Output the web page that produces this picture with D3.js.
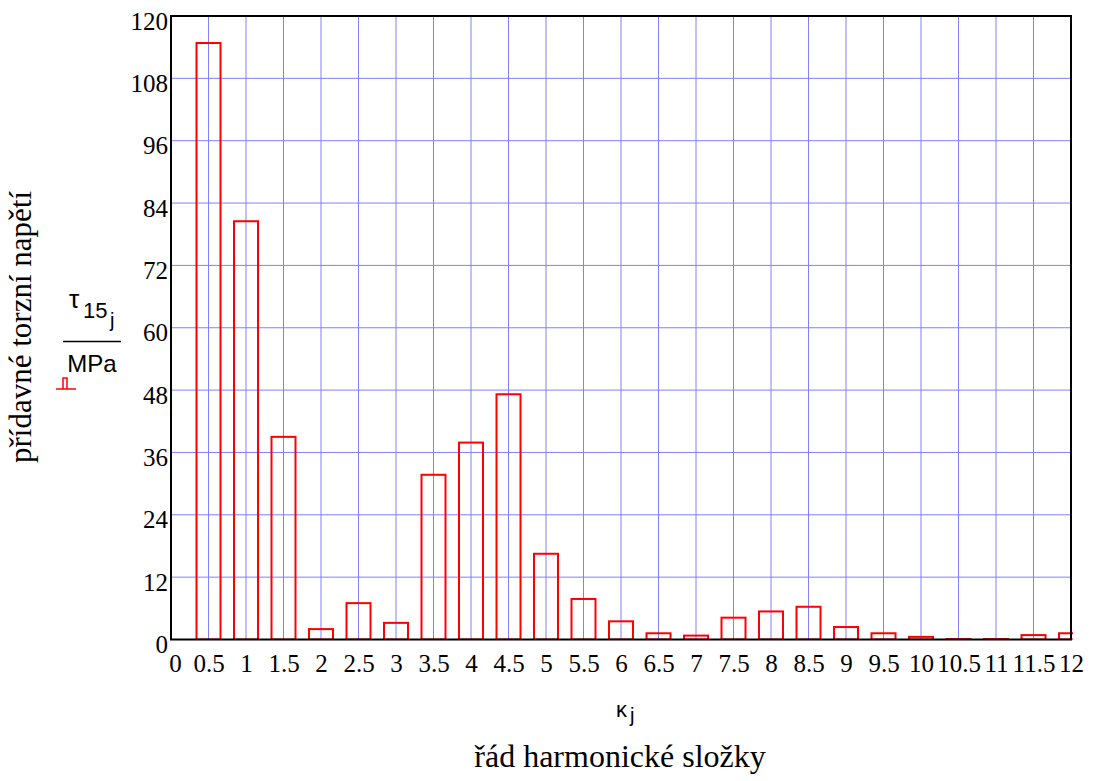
<!DOCTYPE html>
<html><head><meta charset="utf-8">
<script src="https://cdn.jsdelivr.net/npm/d3@7"></script>
<style>body{margin:0;background:#fff}svg{display:block}</style>
</head><body>
<svg id="c" width="1093" height="781"></svg>
<script>
const harmonics = [0.5,1,1.5,2,2.5,3,3.5,4,4.5,5,5.5,6,6.5,7,7.5,8,8.5,9,9.5,10,10.5,11,11.5,12];
const tau15 = [114.8,80.5,39.0,2.0,7.0,3.2,31.7,37.9,47.2,16.5,7.8,3.5,1.2,0.75,4.2,5.4,6.3,2.4,1.2,0.5,0.08,0.08,0.85,1.2];
const xTicks = d3.range(0, 12.001, 0.5);
const yTicks = d3.range(0, 121, 12);
const yTitle = "přídavné torzní napětí";
const xTitle = "řád harmonické složky";

const svg = d3.select("#c");
const L = 171, R = 1071, T = 16, B = 639.5;
const x = d3.scaleLinear().domain([0,12]).range([L,R]);
const y = d3.scaleLinear().domain([0,120]).range([B,T]);
const barW = 0.32;
const serif = "'Liberation Serif','Times New Roman',serif";
const sans = "'Liberation Sans',Arial,sans-serif";

svg.append("defs").append("clipPath").attr("id","clip")
  .append("rect").attr("x",L).attr("y",T-5).attr("width",R-L+2).attr("height",B-T+5);

// grid
svg.append("g").selectAll("line").data(xTicks.slice(1,-1)).join("line")
  .attr("x1",d=>x(d)).attr("x2",d=>x(d)).attr("y1",T).attr("y2",B)
  .attr("stroke","#8080ff").attr("stroke-width",1);
svg.append("g").selectAll("line").data(yTicks.slice(1,-1)).join("line")
  .attr("x1",L).attr("x2",R).attr("y1",d=>y(d)).attr("y2",d=>y(d))
  .attr("stroke","#8080ff").attr("stroke-width",1);

// bars
svg.append("g").attr("clip-path","url(#clip)").selectAll("rect").data(harmonics).join("rect")
  .attr("x",(d)=>x(d-barW/2)).attr("width",x(barW)-x(0))
  .attr("y",(d,i)=>y(tau15[i])).attr("height",(d,i)=>y(0)-y(tau15[i]))
  .attr("fill","none").attr("stroke","#ff0000").attr("stroke-width",2);

// frame
svg.append("rect").attr("x",L).attr("y",T).attr("width",R-L).attr("height",B-T)
  .attr("fill","none").attr("stroke","#000").attr("stroke-width",2);

// axes tick labels
const yAxis = d3.axisLeft(y).tickValues(yTicks).tickSize(0).tickPadding(3);
const gy = svg.append("g").attr("transform",`translate(${L},0)`).call(yAxis);
gy.select(".domain").remove();
gy.selectAll("text").attr("font-family",serif).attr("font-size",25).attr("fill","#000")
  .attr("dy",0).attr("y",13);

const xAxis = d3.axisBottom(x).tickValues(xTicks).tickSize(0).tickFormat(d=>d3.format("")(d));
const gx = svg.append("g").attr("transform",`translate(0,${B})`).call(xAxis);
gx.select(".domain").remove();
gx.selectAll("text").attr("font-family",serif).attr("font-size",25).attr("fill","#000")
  .attr("dy",0).attr("y",32).attr("dx",(d)=>d===0?4:0);

// y title
svg.append("text").attr("transform","translate(31,327) rotate(-90)")
  .attr("text-anchor","middle").attr("font-family",serif).attr("font-size",31).text(yTitle);

// fraction label
const fr = svg.append("g").attr("font-family",sans);
fr.append("text").attr("x",69).attr("y",308).attr("font-size",26).text("τ");
fr.append("text").attr("x",83).attr("y",318).attr("font-size",22).text("15");
fr.append("text").attr("x",110).attr("y",327).attr("font-size",20).text("j");
fr.append("line").attr("x1",63).attr("x2",121).attr("y1",341.5).attr("y2",341.5).attr("stroke","#000").attr("stroke-width",1.5);
fr.append("text").attr("x",92).attr("y",372).attr("text-anchor","middle").attr("font-size",24).text("MPa");
// legend symbol
const lg = svg.append("g").attr("stroke","#ff0000").attr("stroke-width",1.5).attr("fill","none");
lg.append("line").attr("x1",56).attr("x2",76).attr("y1",389).attr("y2",389);
lg.append("path").attr("d","M63,389 V378 H67 V389");

// x label kappa
svg.append("text").attr("x",616).attr("y",717).attr("font-family",sans).attr("font-size",22).text("κ");
svg.append("text").attr("x",630).attr("y",722).attr("font-family",sans).attr("font-size",20).text("j");

svg.append("text").attr("x",620).attr("y",767).attr("text-anchor","middle")
  .attr("font-family",serif).attr("font-size",32).text(xTitle);
</script>
</body></html>
